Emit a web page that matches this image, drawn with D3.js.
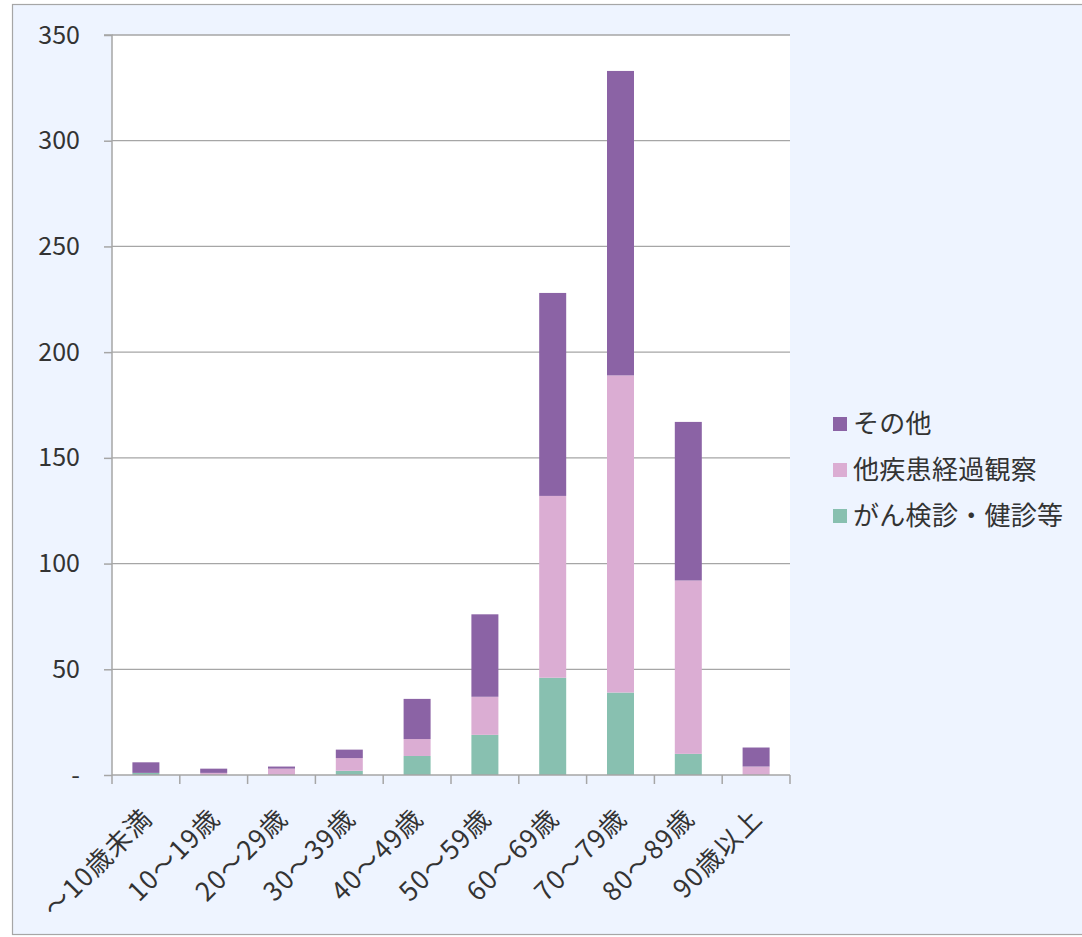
<!DOCTYPE html>
<html><head><meta charset="utf-8">
<script src="https://cdn.jsdelivr.net/npm/d3@7"></script>
<style>html,body{margin:0;padding:0;background:#fff;}svg{display:block;}</style>
</head><body>
<script>
const categories = ["～10歳未満","10～19歳","20～29歳","30～39歳","40～49歳","50～59歳","60～69歳","70～79歳","80～89歳","90歳以上"];
const seriesNames = ["がん検診・健診等","他疾患経過観察","その他"];
const kenshin = [1,0,0,2,9,19,46,39,10,0];
const keika   = [0,1,3,6,8,18,86,150,82,4];
const sonota  = [5,2,1,4,19,39,96,144,75,9];
const yTicks = [0,50,100,150,200,250,300,350];
const colors = ["#88C0B0","#DBADD3","#8B63A5"];

const W=1082,H=937;
const svg=d3.select("body").append("svg").attr("width",W).attr("height",H);
const font="'Noto Sans CJK JP','Noto Sans',sans-serif";
svg.append("rect").attr("x",12.5).attr("y",4.5).attr("width",1080).attr("height",930)
  .attr("fill","#EEF4FF").attr("stroke","#A6A6A6").attr("stroke-width",1.2);

const L=112,R=790,T=35,B=775;
svg.append("rect").attr("x",L).attr("y",T).attr("width",R-L).attr("height",B-T).attr("fill","#fff");

const xb=d3.scaleBand().domain(categories).range([L,R]);
const y=d3.scaleLinear().domain([0,350]).range([B,T]);

// gridlines
svg.append("g").selectAll("line").data(yTicks.filter(d=>d>0)).join("line")
  .attr("x1",L).attr("x2",R).attr("y1",d=>y(d)).attr("y2",d=>y(d))
  .attr("stroke","#A6A6A6").attr("stroke-width",1.3);

// stacked bars
const data=categories.map((c,i)=>({cat:c,"がん検診・健診等":kenshin[i],"他疾患経過観察":keika[i],"その他":sonota[i]}));
const stack=d3.stack().keys(seriesNames)(data);
svg.append("g").selectAll("g").data(stack).join("g").attr("fill",(d,i)=>colors[i])
  .selectAll("rect").data(d=>d).join("rect")
  .attr("x",d=>xb(d.data.cat)+xb.bandwidth()/2-13.5).attr("width",27)
  .attr("y",d=>y(d[1])).attr("height",d=>y(d[0])-y(d[1]));

// y axis
const yAxis=d3.axisLeft(y).tickValues(yTicks).tickSize(8).tickPadding(24)
  .tickFormat(d=>d===0?"-":d);
const ga=svg.append("g").attr("transform",`translate(${L},0)`).call(yAxis);
ga.selectAll("path,line").attr("stroke","#A6A6A6").attr("stroke-width",1.5);
ga.select(".domain").attr("d",`M-8,${T}H0V${B}`);
ga.selectAll("text").attr("font-family",font).attr("font-size",25).attr("fill","#333");

// x axis
const xAxis=d3.axisBottom(xb).tickSize(8).tickFormat("");
const gx=svg.append("g").attr("transform",`translate(0,${B})`).call(xAxis);
gx.selectAll(".tick line").remove();
gx.select(".domain").attr("stroke","#A6A6A6").attr("stroke-width",1.5).attr("d",`M${L},0H${R}`);
gx.selectAll(".ticklines").data(d3.range(categories.length+1)).join("line")
  .attr("x1",i=>L+i*xb.step()).attr("x2",i=>L+i*xb.step()).attr("y1",0).attr("y2",9)
  .attr("stroke","#A6A6A6").attr("stroke-width",1.5);
svg.append("g").selectAll("text").data(categories).join("text")
  .attr("transform",d=>`translate(${xb(d)+xb.bandwidth()/2+8},${B+45}) rotate(-45)`)
  .attr("text-anchor","end").attr("font-family",font).attr("font-size",26).attr("fill","#333")
  .attr("letter-spacing",1.2)
  .text(d=>d);

// legend
const legItems=[2,1,0];
const lg=svg.append("g");
legItems.forEach((s,j)=>{
  const yy=424+j*46;
  lg.append("rect").attr("x",833).attr("y",yy-7).attr("width",14).attr("height",14).attr("fill",colors[s]);
  lg.append("text").attr("x",853).attr("y",yy).attr("dy","0.36em").attr("font-family",font)
    .attr("font-size",26).attr("fill","#333").attr("letter-spacing",0.3).text(seriesNames[s]);
});
</script>
</body></html>
